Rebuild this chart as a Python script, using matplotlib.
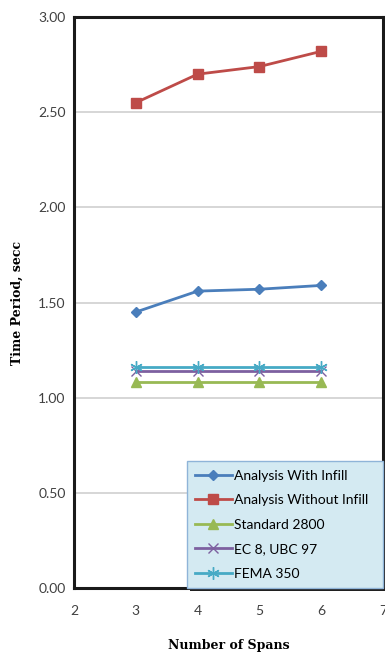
import matplotlib.pyplot as plt
from matplotlib.patches import Rectangle

spans = [3, 4, 5, 6]
with_infill = [1.45, 1.56, 1.57, 1.59]
without_infill = [2.55, 2.70, 2.74, 2.82]
standard_2800 = [1.08, 1.08, 1.08, 1.08]
ec8_ubc97 = [1.14, 1.14, 1.14, 1.14]
fema_350 = [1.16, 1.16, 1.16, 1.16]

y_ticks = [0.0, 0.5, 1.0, 1.5, 2.0, 2.5, 3.0]
x_ticks = [2, 3, 4, 5, 6, 7]

plt.rcParams['font.family'] = ['Lato', 'DejaVu Sans']

fig = plt.figure(figsize=(3.85, 6.57), dpi=100)
ax = fig.add_axes([0.192, 0.105, 0.803, 0.869])

ax.plot(spans, with_infill, color='#4a7ebb', marker='D', markersize=5, lw=2,
        label='Analysis With Infill')
ax.plot(spans, without_infill, color='#be4b48', marker='s', markersize=7, lw=2,
        label='Analysis Without Infill')
ax.plot(spans, standard_2800, color='#98b954', marker='^', markersize=7, lw=2,
        label='Standard 2800')
ax.plot(spans, ec8_ubc97, color='#7d60a0', marker='x', markersize=7, lw=2,
        label='EC 8, UBC 97')
ax.plot(spans, fema_350, color='#46aac5', marker=(6, 2, 0), markersize=9, lw=2,
        label='FEMA 350')

ax.set_xlim(2, 7)
ax.set_ylim(0, 3)
ax.set_xticks(x_ticks)
ax.set_yticks(y_ticks)
ax.set_yticklabels([f'{v:.2f}' for v in y_ticks])
ax.yaxis.grid(True, color='#d0d0d0', lw=1.2)
ax.set_axisbelow(True)
ax.tick_params(length=0, labelsize=10, colors='#404040')
ax.tick_params(axis='x', pad=12)
ax.tick_params(axis='y', pad=6)
for s in ax.spines.values():
    s.set_linewidth(2.2)
    s.set_color('#1a1a1a')

ax.set_ylabel('Time Period, secc', family='DejaVu Serif', fontweight='bold',
              fontsize=9, labelpad=10)
ax.set_xlabel('Number of Spans', family='DejaVu Serif', fontweight='bold',
              fontsize=9, labelpad=16)

# legend in the bottom right corner, light blue fill
leg = ax.legend(loc='lower left', bbox_to_anchor=(0.366, 0.0, 0.634, 0.3),
                mode='expand', fontsize=10, frameon=True, fancybox=False,
                handlelength=2.6, handletextpad=0.2, borderaxespad=0,
                labelspacing=0.9, borderpad=0.6)
leg.get_frame().set_facecolor('#d4eaf2')
leg.get_frame().set_edgecolor('#8fb4d8')
leg.get_frame().set_alpha(1)
leg.set_zorder(5)

# dark drop shadow behind the legend box
fig.canvas.draw()
bb = leg.get_window_extent().transformed(ax.transAxes.inverted())
dx, dy = 3 / (ax.bbox.width), 3 / (ax.bbox.height)
shadow = Rectangle((bb.x0 + dx, bb.y0 - dy), bb.width, bb.height,
                   transform=ax.transAxes, facecolor='#202020',
                   edgecolor='none', clip_on=False, zorder=4)
ax.add_patch(shadow)

fig.savefig('out.png', dpi=100)
